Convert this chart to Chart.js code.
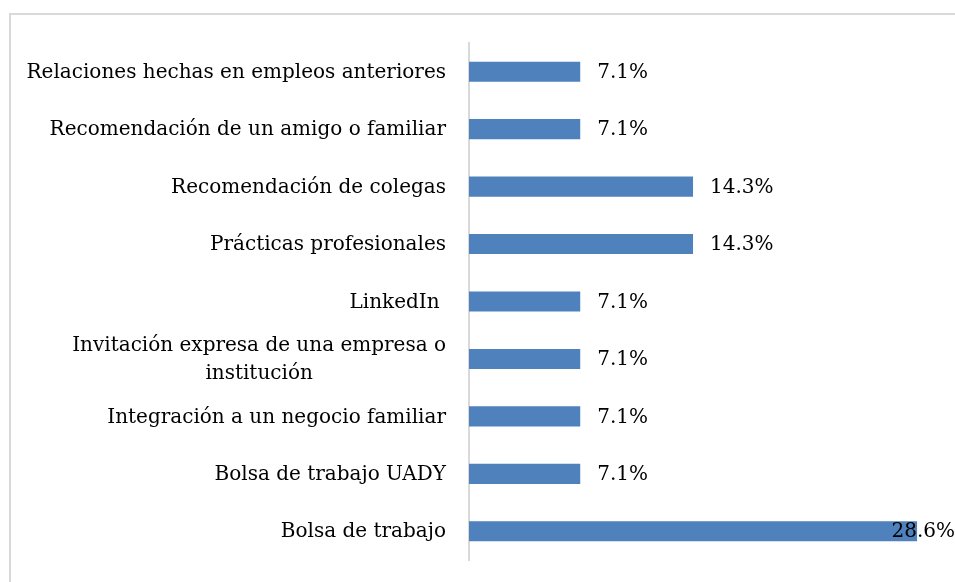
<!DOCTYPE html>
<html>
<head>
<meta charset="utf-8">
<script src="https://cdn.jsdelivr.net/npm/chart.js@4"></script>
<style>
  html, body { margin: 0; padding: 0; background: #fff; }
  #wrap { width: 955px; height: 582px; position: relative; }
</style>
</head>
<body>
<div id="wrap"><canvas id="chart"></canvas></div>
<script>
const categories = [
  'Relaciones hechas en empleos anteriores',
  'Recomendación de un amigo o familiar',
  'Recomendación de colegas',
  'Prácticas profesionales',
  'LinkedIn ',
  ['Invitación expresa de una empresa o', 'institución'],
  'Integración a un negocio familiar',
  'Bolsa de trabajo UADY',
  'Bolsa de trabajo'
]
const values = [7.1, 7.1, 14.3, 14.3, 7.1, 7.1, 7.1, 7.1, 28.6]
const valueLabels = ['7.1%', '7.1%', '14.3%', '14.3%', '7.1%', '7.1%', '7.1%', '7.1%', '28.6%']

const FONT = '"DejaVu Serif", serif'
const FONT_SIZE = 20

// light frame around the chart (runs past the right/bottom edge)
const frame = {
  id: 'frame',
  beforeDraw(chart) {
    const c = chart.ctx
    c.save()
    c.strokeStyle = '#d9d9d9'
    c.lineWidth = 2
    c.strokeRect(10, 14, 2000, 2000)
    c.restore()
  }
}

// category labels (right aligned block, lines centred) and value labels
const labels = {
  id: 'labels',
  afterDraw(chart) {
    const c = chart.ctx
    const y = chart.scales.y
    const meta = chart.getDatasetMeta(0)
    c.save()
    c.fillStyle = '#000'
    c.font = FONT_SIZE + 'px ' + FONT
    c.textBaseline = 'middle'
    const lineH = 28
    const right = y.right - 23
    chart.data.labels.forEach((lab, i) => {
      const lines = Array.isArray(lab) ? lab : [lab]
      const w = Math.max(...lines.map(l => c.measureText(l).width))
      const cx = right - w / 2
      const yc = y.getPixelForTick(i) + 1
      c.textAlign = 'center'
      lines.forEach((l, k) => {
        c.fillText(l, cx, yc + (k - (lines.length - 1) / 2) * lineH)
      })
    })
    c.textAlign = 'left'
    meta.data.forEach((bar, i) => {
      const txt = valueLabels[i]
      const tw = c.measureText(txt).width
      const x = Math.min(bar.x + 17, chart.width - tw)
      c.fillText(txt, x, bar.y + 1)
    })
    c.restore()
  }
}

new Chart(document.getElementById('chart'), {
  type: 'bar',
  data: {
    labels: categories,
    datasets: [{
      data: values,
      backgroundColor: '#4f81bd',
      borderWidth: 0,
      barPercentage: 0.35,
      categoryPercentage: 1
    }]
  },
  options: {
    indexAxis: 'y',
    responsive: true,
    maintainAspectRatio: false,
    animation: false,
    layout: { padding: { left: 10, top: 43, bottom: 22, right: 16 } },
    plugins: {
      legend: { display: false },
      tooltip: { enabled: false }
    },
    scales: {
      x: {
        display: false,
        min: 0,
        max: 30
      },
      y: {
        grid: { display: false, drawTicks: false },
        border: { display: true, color: '#d9d9d9', width: 2 },
        ticks: { display: false },
        afterFit(scale) { scale.width = 459 }
      }
    }
  },
  plugins: [frame, labels]
})
</script>
</body>
</html>
